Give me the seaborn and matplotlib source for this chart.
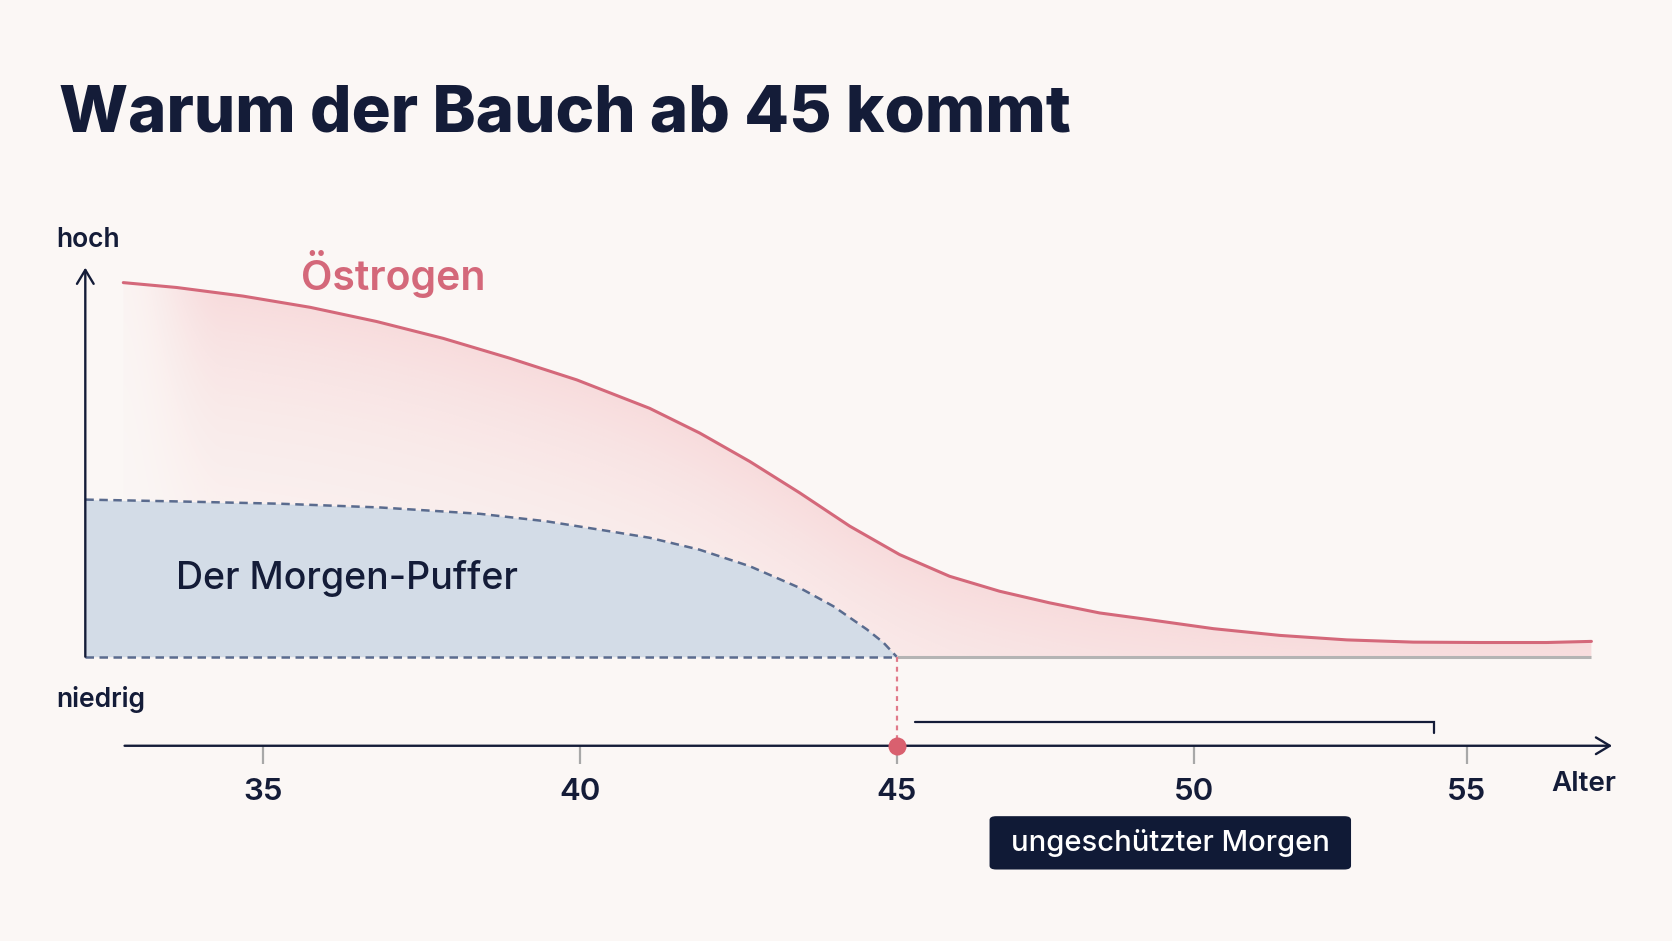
import numpy as np
import matplotlib
matplotlib.use("Agg")
import matplotlib.pyplot as plt
import matplotlib.patches as mpatches
import seaborn as sns

# ---------------- data ----------------
TITLE = "Warum der Bauch ab 45 kommt"
AGE_TICKS = [35, 40, 45, 50, 55]
ESTROGEN_AGE = [32.79, 33.63, 34.68, 35.74, 36.79, 37.84, 38.89, 39.95, 41.10, 41.89,
                42.68, 43.47, 44.26, 45.05, 45.89, 46.73, 47.57, 48.41, 49.20, 50.35,
                51.57, 52.80, 54.02, 55.24, 56.47, 57.29]
ESTROGEN_LEVEL = [100.0, 98.7, 96.4, 93.4, 89.6, 85.1, 79.8, 74.0, 66.4, 59.8,
                  52.2, 43.8, 34.9, 27.3, 21.5, 17.5, 14.4, 11.7, 10.0, 7.5,
                  5.7, 4.5, 3.9, 3.8, 3.8, 4.1]
BUFFER_AGE = [32.19, 33.68, 35.26, 36.84, 38.42, 39.47, 40.37, 41.10, 41.89, 42.68,
              43.47, 44.00, 44.53, 44.79, 45.00]
BUFFER_LEVEL = [42.0, 41.5, 40.9, 39.9, 38.2, 36.2, 33.8, 31.8, 28.6, 24.2,
                18.4, 13.5, 7.3, 3.8, 0.0]
MENOPAUSE_AGE = 45
UNPROTECTED_START, UNPROTECTED_END = 45.3, 54.4
LABEL_ESTROGEN = "Östrogen"
LABEL_BUFFER = "Der Morgen-Puffer"
LABEL_UNPROTECTED = "ungeschützter Morgen"
Y_HIGH, Y_LOW, X_NAME = "hoch", "niedrig", "Alter"

# axis warp (the drawn age axis is slightly compressed after 45)
AGE_KNOTS = [30, 35, 40, 45, 50, 55, 60]
POS_KNOTS = [-5, 0, 5, 10, 14.7, 19.0, 23.3]

# ---------------- style ----------------
BG = "#fbf7f5"
NAVY = "#141c38"
RED = "#d4687a"
BLUE_LINE = "#5a6b8e"
BLUE_FILL = "#d3dce7"
GREY = "#b4b4b4"

sns.set_theme(style="white")
plt.rcParams["font.family"] = ["Inter", "DejaVu Sans"]

fig = plt.figure(figsize=(16.72, 9.41), dpi=100, facecolor=BG)
ax = fig.add_axes([0.05102, 0.20748, 0.91837, 0.52041])
ax.set_facecolor("none")


def fwd(a):
    return np.interp(a, AGE_KNOTS, POS_KNOTS)


def inv(p):
    return np.interp(p, POS_KNOTS, AGE_KNOTS)


ax.set_xscale("function", functions=(fwd, inv))
XMIN, XMAX = 32.19, 57.83
YMIN, YMAX = -23.8, 107.1
ax.set_xlim(XMIN, XMAX)
ax.set_ylim(YMIN, YMAX)
for s in ax.spines.values():
    s.set_visible(False)

# ---- soft red gradient under the estrogen curve ----
W, H = 1400, 700
fx = (np.arange(W) + 0.5) / W
fy = (np.arange(H) + 0.5) / H
p0, p1 = fwd(XMIN), fwd(XMAX)
ages = inv(p0 + fx * (p1 - p0))
vals = YMIN + fy * (YMAX - YMIN)
curve = np.interp(ages, ESTROGEN_AGE, ESTROGEN_LEVEL, left=np.nan, right=np.nan)
A, V = np.meshgrid(ages, vals)
C = np.broadcast_to(curve, A.shape)
depth = C - V
alpha = 0.20 * np.exp(-np.clip(depth, 0, None) / 42.0)
t = np.clip((A - ESTROGEN_AGE[0]) / 1.6, 0, 1)
left_fade = t * t * (3 - 2 * t)
alpha = alpha * (0.15 + 0.85 * left_fade)
mask = (depth > 0) & (V > 0) & np.isfinite(C)
alpha = np.where(mask, alpha, 0.0)
img = np.zeros((H, W, 4))
img[..., 0] = 235 / 255
img[..., 1] = 110 / 255
img[..., 2] = 122 / 255
img[..., 3] = alpha
ax.imshow(img, extent=[0, 1, 0, 1], transform=ax.transAxes, origin="lower",
          aspect="auto", zorder=1, interpolation="bilinear")

# ---- Morgen-Puffer area ----
ax.fill_between(BUFFER_AGE, BUFFER_LEVEL, 0, color=BLUE_FILL, lw=0, zorder=2)
sns.lineplot(x=BUFFER_AGE, y=BUFFER_LEVEL, ax=ax, color=BLUE_LINE, lw=1.8,
             linestyle=(0, (3.4, 2.2)), sort=False, zorder=3)
ax.plot([XMIN, MENOPAUSE_AGE], [0, 0], color=BLUE_LINE, lw=1.8,
        linestyle=(0, (3.4, 2.2)), zorder=3)
ax.plot([MENOPAUSE_AGE, ESTROGEN_AGE[-1]], [0, 0], color=GREY, lw=2.2, zorder=2.5,
        solid_capstyle="butt")

# ---- estrogen curve ----
sns.lineplot(x=ESTROGEN_AGE, y=ESTROGEN_LEVEL, ax=ax, color=RED, lw=2.2,
             sort=False, zorder=4)

# ---- axes arrows ----
ax.annotate("", xy=(XMIN, 104.0), xytext=(XMIN, 0), xycoords="data",
            arrowprops=dict(arrowstyle="->,head_length=0.5,head_width=0.3",
                            color=NAVY, lw=1.7, mutation_scale=20,
                            shrinkA=0, shrinkB=0), annotation_clip=False, zorder=5)
ax.annotate("", xy=(57.67, YMIN), xytext=(32.81, YMIN), xycoords="data",
            arrowprops=dict(arrowstyle="->,head_length=0.5,head_width=0.3",
                            color=NAVY, lw=1.7, mutation_scale=20,
                            shrinkA=0, shrinkB=0), annotation_clip=False, zorder=5)

# ticks
ax.set_xticks(AGE_TICKS)
ax.set_xticklabels([str(t) for t in AGE_TICKS])
ax.minorticks_off()
ax.set_yticks([])
ax.tick_params(axis="x", direction="out", length=13, width=1.6, color="#a8a8a8",
               labelsize=22.5, labelcolor=NAVY, pad=10, bottom=True)
for lab in ax.get_xticklabels():
    lab.set_fontweight("semibold")

# menopause marker
ax.plot([MENOPAUSE_AGE, MENOPAUSE_AGE], [0, YMIN], color="#e07a8a", lw=1.6,
        linestyle=(0, (2.2, 2.2)), zorder=4, clip_on=False)
ax.plot([MENOPAUSE_AGE], [YMIN], "o", color="#d9606f", ms=13, mec="none",
        zorder=6, clip_on=False)

# bracket for the unprotected period
ax.plot([UNPROTECTED_START, UNPROTECTED_END, UNPROTECTED_END],
        [-17.4, -17.4, -20.5], color=NAVY, lw=1.6, zorder=5, clip_on=False,
        solid_joinstyle="miter")

# ---- texts ----
fig.text(0.0351, 0.8605, TITLE, fontsize=47, fontweight="heavy", color=NAVY,
         ha="left", va="baseline")
fig.text(0.0338, 0.737, Y_HIGH, fontsize=19, fontweight="semibold", color=NAVY,
         ha="left", va="baseline")
fig.text(0.0338, 0.2483, Y_LOW, fontsize=19, fontweight="semibold", color=NAVY,
         ha="left", va="baseline")
fig.text(0.928, 0.1595, X_NAME, fontsize=20, fontweight="semibold", color=NAVY,
         ha="left", va="baseline")
fig.text(0.1798, 0.6916, LABEL_ESTROGEN, fontsize=29.5, fontweight="semibold",
         color=RED, ha="left", va="baseline")
fig.text(0.1052, 0.3741, LABEL_BUFFER, fontsize=27, fontweight="medium",
         color=NAVY, ha="left", va="baseline")

box = mpatches.FancyBboxPatch((928 / 1568, 1 - 815 / 882), 339 / 1568, 50 / 882,
                              boxstyle="round,pad=0,rounding_size=0.004",
                              transform=fig.transFigure, facecolor="#101a36",
                              edgecolor="none", zorder=10)
fig.patches.append(box)
fig.text(1097.5 / 1568, 1 - 790 / 882, LABEL_UNPROTECTED, fontsize=21,
         fontweight="medium", color="white", ha="center", va="center", zorder=11)

fig.savefig("out.png", dpi=100, facecolor=BG)
